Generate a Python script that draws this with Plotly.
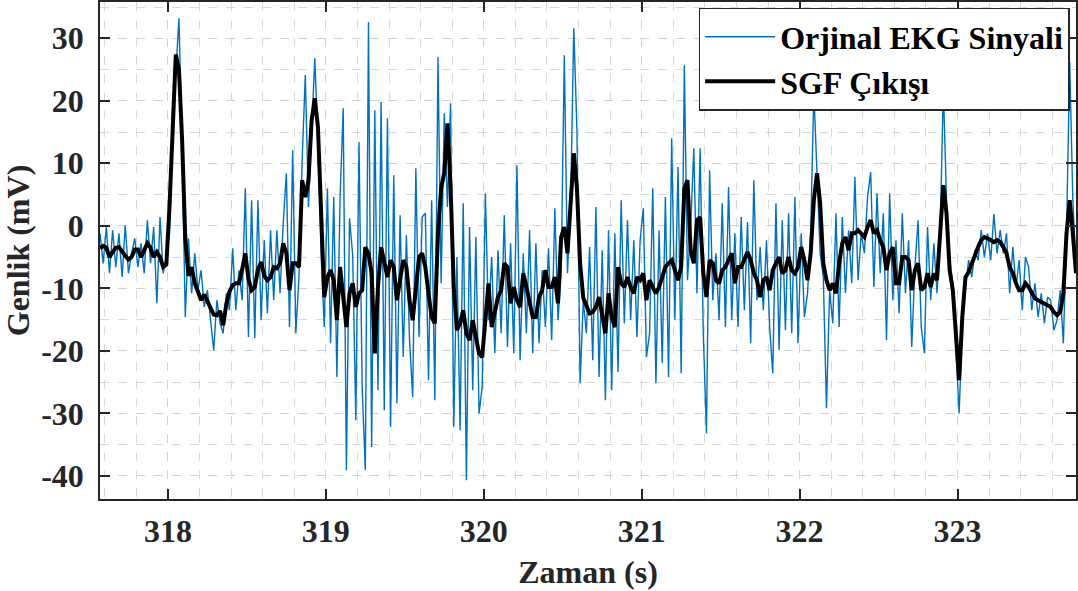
import numpy as np
import plotly.graph_objects as go

# sampling grid of the signal (s)
t_start = 317.57
dt = 0.02
n_samples = 310

# Original ECG signal (mV)
orjinal_ekg = [
    -1.2, -6.0, -0.2, -7.6, -0.7, -6.6, -1.2, -8.2, 0.1, -7.6,
    -4.4, -2.0, -6.6, -2.8, -7.6, 0.9, -6.0, -0.2, -12.4, 1.4,
    -7.6, -5.0, -1.2, 20.1, 24.4, 33.2, 12.1, -14.6, -2.0, -10.8,
    -4.4, -10.3, -7.1, -13.0, -10.3, -15.1, -19.9, -11.9, -15.6, -17.2,
    -10.8, -13.5, -3.6, -13.5, -7.1, -11.9, 6.0, -17.8, 4.1, -18.0,
    4.1, -15.1, -2.3,
    -14.0, -0.7, -11.9, -0.7, -10.8, 0.4, 8.4, -16.2, 12.1, -17.2,
    -8.2, 10.5, 24.1, 3.0, 14.8, 26.8, 13.7, -4.4, -16.2, 6.0,
    -18.8, 4.6, -24.2, 4.4, 18.8, -39.1, 1.2, -4.7, -31.1, 13.4,
    -25.8, -39.1, 32.6, -35.4, 18.5, -26.3, 19.8, -29.5, 17.2, -32.2,
    8.1, -28.4, 1.7, -21.0, -1.5, -18.3, -27.4, 9.2, -17.8, 1.4,
    2.0, -24.7, 4.1, -27.9, 27.0, -9.2, 18.0, 3.0, 19.6, -32.2,
    -5.0, -32.7, 3.6, -40.7, -0.2, -26.3, -1.8, -30.0, -25.8, 5.2,
    -15.1, -5.0, -20.4, -3.9, -17.2, 1.7, -19.4, -2.8, -20.4, 9.7,
    -21.5, -4.4, -17.2, -0.7, -20.4, -2.8, -18.8, -7.1, -16.2, -3.6,
    -18.3, 2.8, -15.1, -7.6, 27.3, -7.6, 3.6, 31.6, 15.3, -25.2,
    -11.9,
    -17.2, -3.4, -21.5, 3.0, -24.2, -3.9, -27.9, -0.7, -26.3, -1.2,
    -23.4, 4.1, -15.6, 0.9, -15.1, -2.3, -17.8, -2.3, 2.8, -21.0,
    -17.2, 6.0, -25.2, -0.7, -22.0, 4.6, -24.2, 14.0, -15.1, 9.4,
    -23.6, 25.7, -8.7, -0.2, 12.4, -10.8, 12.4, -17.2, -33.2, 8.9,
    -11.9, -4.4, -15.1, 3.6, -16.2, 6.2, -15.1, -1.2, -16.2, 1.4,
    -13.5, 0.6, -18.8, 7.3, -11.9, -3.4, -13.5, -2.3, -16.2, -23.6,
    3.6, -19.9, 0.9, -16.7, 2.0, -17.2, 4.6, -18.8, -1.2, -14.6,
    -10.8, -1.2, 21.5, 8.4, -4.4, -8.2, -29.2, -10.3, -15.6, 2.0,
    -16.2, 1.4, -10.8, -0.7, -9.2, 7.8, -8.7, -1.2, -4.4, 4.6,
    8.6, -9.8, 5.2, -7.6, 2.0, -18.3, 5.2, -11.9, -2.3, -14.0,
    2.0,
    -10.8, -2.3, -19.4, -6.6, 0.9, -16.2, -20.4, -0.2, -11.9, -2.8,
    -10.8, -1.2, 22.2, 4.1, -5.5, -9.2, -19.9, -30.0, -16.2, -9.8,
    -5.5, -8.2, -3.9, -5.5, -0.7, -5.0, -1.2, -5.5, 1.9, -4.4,
    -0.7, -4.4, -1.2, -10.8, -3.4, -9.8, -5.5, -13.5, -5.0, -6.6,
    -13.5, -9.2, -14.6, -10.8, -15.6, -11.4, -11.9, -16.7, -15.1, -10.3,
    -18.8, -1.2, 26.2, 4.1, -6.6,
]

# Savitzky-Golay filter output (mV)
sgf_cikisi = [
    -3.6, -3.2, -3.5, -5.0, -4.2, -3.5, -3.4, -4.2, -4.8, -5.4,
    -5.0, -3.8, -3.8, -5.0, -3.8, -2.8, -3.5, -5.0, -4.2, -5.0,
    -6.6, -6.2, 3.0, 16.0, 27.4, 25.0, 13.7, -2.0, -8.0, -6.6,
    -9.2, -10.5, -11.9, -11.0, -12.0, -13.2, -14.2, -14.3, -13.6, -15.9,
    -12.5, -10.5, -9.5, -9.2, -9.2, -7.0, -4.4, -8.5, -10.3, -9.8,
    -7.0, -5.8, -8.0,
    -8.7, -8.2, -6.6, -6.8, -6.0, -2.8, -4.4, -10.3, -6.0, -6.0,
    -6.6, 7.3, 4.6, 7.3, 16.9, 20.4, 15.8, 1.4, -11.4, -8.2,
    -7.1, -8.7, -15.1, -6.6, -11.4, -16.2, -10.8, -9.2, -13.0, -10.8,
    -10.3, -3.4, -4.4, -7.6, -20.4, -9.8, -3.4, -5.5, -8.2, -5.5,
    -6.6, -11.9, -8.2, -5.5, -6.6, -11.9, -15.1, -10.3, -5.0, -4.4,
    -6.6, -10.8, -14.6, -15.6, -1.2, 6.0, 8.5, 16.4, 6.2, -9.8,
    -16.7, -15.6, -13.5, -17.2, -18.3, -15.1, -17.8, -20.4, -21.0, -15.1,
    -9.2, -16.2, -13.5, -11.4, -10.3, -6.0, -6.6, -12.4, -9.8, -11.9,
    -13.0, -7.6, -9.8, -11.9, -14.6, -14.6, -11.4, -10.3, -7.1, -9.8,
    -9.8, -8.2, -12.4, -1.8, -0.2, -4.4, 3.0, 11.6, 6.0, -6.0,
    -11.5,
    -13.0, -14.0, -13.8, -13.0, -11.4, -14.6, -17.2, -10.8, -14.6, -16.2,
    -6.6, -9.2, -9.8, -8.2, -9.8, -10.8, -8.2, -8.7, -7.6, -11.9,
    -8.7, -9.8, -10.8, -9.8, -8.2, -6.6, -6.0, -5.5, -7.1, -8.7,
    -6.6, 6.0, 7.3, -4.0, -6.0, 0.9, 1.4, -7.6, -11.4, -5.5,
    -6.0, -8.7, -9.2, -7.1, -6.6, -5.5, -4.4, -9.2, -6.6, -6.6,
    -5.5, -4.2, -5.5, -7.6, -8.7, -11.4, -8.7, -8.2, -10.3, -7.1,
    -6.0, -5.0, -7.6, -7.1, -5.0, -7.1, -7.6, -6.6, -3.4, -5.5,
    -8.7, -4.4, 4.1, 8.4, 3.6, -6.0, -8.7, -10.3, -9.2, -10.8,
    -6.0, -2.8, -1.8, -3.9, -1.2, -1.2, -0.7, -1.2, -1.8, -0.2,
    0.9, -1.2, -0.7, -2.3, -3.4, -7.1, -4.4, -3.4, -9.2, -9.2,
    -5.0,
    -5.0, -5.5, -10.3, -7.1, -6.0, -10.3, -9.8, -7.6, -9.8, -7.6,
    -8.7, -1.2, 6.5, 2.0, -7.1, -10.3, -18.3, -24.7, -14.6, -8.2,
    -7.4, -6.0, -4.4, -3.4, -2.3, -1.8, -2.0, -2.3, -2.6, -2.3,
    -2.6, -3.4, -4.4, -6.6, -7.6, -9.2, -10.3, -10.3, -9.2, -9.8,
    -10.8, -11.6, -11.9, -12.2, -12.4, -12.7, -13.0, -13.8, -14.3, -13.8,
    -10.8, -1.2, 4.1, -1.2, -7.6,
]

x_ticks = [318, 319, 320, 321, 322, 323]
y_ticks = [30, 20, 10, 0, -10, -20, -30, -40]

zaman = np.round(t_start + dt * np.arange(n_samples), 3)

FONT = "Liberation Serif, Times New Roman, serif"
AXC = "#262626"

fig = go.Figure()
fig.add_trace(go.Scatter(
    x=zaman, y=orjinal_ekg, mode="lines", name="Orjinal EKG Sinyali",
    line=dict(color="#0072BD", width=1.4),
))
fig.add_trace(go.Scatter(
    x=zaman, y=sgf_cikisi, mode="lines", name="SGF Çıkışı",
    line=dict(color="#000000", width=4),
))

grid_major = "#d2d2d2"
grid_minor = "#dadada"

fig.update_layout(
    width=1078, height=591,
    margin=dict(l=100, r=2, t=2, b=92),
    paper_bgcolor="white", plot_bgcolor="white",
    font=dict(family=FONT, size=32, color=AXC, weight="bold"),
    showlegend=True,
    legend=dict(
        x=0.9935, xanchor="right", y=0.988, yanchor="top",
        bgcolor="white", bordercolor=AXC, borderwidth=1.5,
        font=dict(family=FONT, size=32, color="#000000", weight="bold"),
        tracegroupgap=0, itemwidth=70,
    ),
    xaxis=dict(
        range=[317.57, 323.75], tickvals=x_ticks,
        ticktext=[str(v) for v in x_ticks],
        showline=True, linecolor=AXC, linewidth=1.5, mirror="ticks",
        ticks="inside", ticklen=10, tickwidth=1.5, tickcolor=AXC,
        showgrid=True, gridcolor=grid_major, griddash="dash", gridwidth=1,
        minor=dict(dtick=0.2, tick0=318, showgrid=True, gridcolor=grid_minor,
                   griddash="dash", gridwidth=1, ticks=""),
        zeroline=False, ticklabelstandoff=3,
        title=dict(text="Zaman (s)", standoff=12,
                   font=dict(family=FONT, size=32, color=AXC, weight="bold")),
        automargin=False,
    ),
    yaxis=dict(
        range=[-43.7, 35.8], tickvals=y_ticks,
        ticktext=[str(v) for v in y_ticks],
        showline=True, linecolor=AXC, linewidth=1.5, mirror="ticks",
        ticks="inside", ticklen=10, tickwidth=1.5, tickcolor=AXC,
        showgrid=True, gridcolor=grid_major, griddash="dash", gridwidth=1,
        minor=dict(dtick=5, tick0=0, showgrid=True, gridcolor=grid_minor,
                   griddash="dash", gridwidth=1, ticks=""),
        zeroline=False, ticklabelstandoff=8,
        title=dict(text="Genlik (mV)", standoff=3,
                   font=dict(family=FONT, size=32, color=AXC, weight="bold")),
        automargin=False,
    ),
)

fig.write_html(
    "out.html",
    config={"displayModeBar": False},
    post_script="document.body.style.margin='0px';document.body.style.overflow='hidden';",
)
